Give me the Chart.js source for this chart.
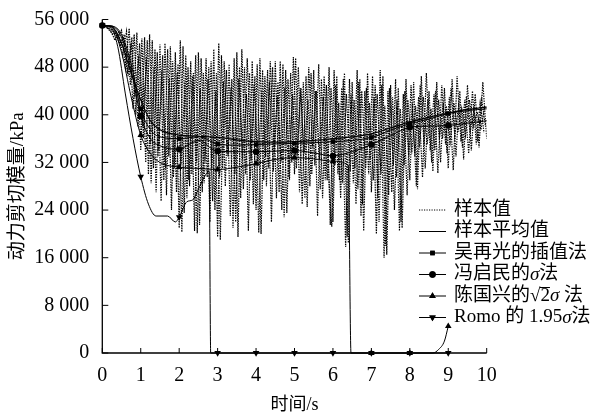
<!DOCTYPE html>
<html>
<head>
<meta charset="utf-8">
<script src="https://cdn.jsdelivr.net/npm/chart.js@4.4.0/dist/chart.umd.min.js"></script>
<style>
  html, body { margin: 0; padding: 0; background: #fff; }
  #wrap { width: 602px; height: 414px; }
</style>
</head>
<body>
<div id="wrap"><canvas id="myChart" width="602" height="414"></canvas></div>
<script>
// 样本值: four dotted sample records, one value every 0.1 s (kPa)
const sampleStep = 0.1;
const sampleStartA = 0;
const sampleA = [
  55000, 54900, 54600, 54000, 53000, 54200, 48000, 54500, 41000, 53800,
  34000, 53000, 30000, 52500, 27000, 51800, 29000, 51000, 24000, 50500,
  21000, 51500, 26000, 49000, 20500, 50500, 27000, 49500, 22000, 51000,
  19500, 50000, 28000, 48500, 21000, 50500, 26000, 48000, 20500, 49000,
  24000, 49500, 29000, 47500, 22000, 49000, 27000, 48500, 23500, 47000,
  30000, 48000, 25000, 46500, 28000, 47500, 23000, 46000, 29000, 48000,
  22000, 46500, 26000, 47000, 18500, 45500, 25000, 46000, 20500, 47000,
  27000, 45000, 22000, 46500, 16500, 45000, 24000, 44500, 21000, 46000,
  29000, 45500, 27500, 46500, 31000, 44000, 30500, 45500, 32000, 44500,
  31000, 46000, 33000, 44000, 32500, 45000, 34000, 43500, 34500, 45500,
  36000
];
const sampleStartB = 0.03;
const sampleB = [
  55000, 54700, 54000, 52500, 53800, 50000, 54000, 45000, 53500, 38000,
  52800, 32000, 53500, 31000, 50500, 25500, 52000, 33000, 49000, 27000,
  52500, 23500, 48000, 30000, 50000, 21500, 47000, 29500, 49000, 24000,
  52000, 31000, 47500, 23000, 49500, 19500, 51000, 30000, 47000, 25000,
  48500, 20000, 46500, 31000, 48000, 26000, 49000, 22800, 46000, 32000,
  49500, 27000, 45500, 24500, 47000, 31500, 48500, 26000, 45000, 21500,
  47500, 30000, 44500, 17800, 46000, 28500, 47500, 23000, 44000, 30000,
  46500, 20000, 47500, 16000, 44000, 27000, 46000, 20500, 43500, 26500,
  45000, 33000, 43000, 29500, 47000, 34000, 43500, 30200, 45000, 35000,
  43000, 30700, 46500, 35500, 42500, 33500, 44000, 35000, 42000, 37000
];
const sampleStartC = 0.07;
const sampleC = [
  54900, 54300, 53500, 54000, 51500, 53500, 46500, 53000, 40000, 52000,
  36000, 52500, 28500, 51000, 34000, 50000, 26500, 51500, 31000, 48500,
  20300, 50000, 28000, 47000, 20100, 49500, 32000, 48000, 25500, 47000,
  19000, 49000, 33000, 46000, 22000, 48000, 27500, 49500, 32500, 46500,
  20200, 47500, 28000, 49000, 33500, 45500, 24000, 47500, 29000, 49700,
  33000, 44500, 26000, 48000, 34500, 44000, 27500, 46500, 32000, 21200,
  45000, 29000, 46000, 19500, 43500, 31000, 45500, 25000, 44500, 32500,
  43000, 26000, 45000, 18000, 44500, 31500, 42500, 22000, 44000, 33000,
  42000, 28000, 45000, 35000, 42500, 32000, 44000, 36000, 42000, 33500,
  44500, 36500, 41500, 34500, 43000, 37000, 41000, 35500, 42500, 38000
];
const sampleStartD = 0.05;
const sampleD = [
  55000, 54600, 54200, 53500, 52000, 53000, 47000, 52000, 43000, 50000,
  38000, 49500, 35000, 48000, 33000, 47500, 31000, 46000, 29500, 47000,
  31500, 45500, 29000, 46500, 32000, 44500, 28500, 46000, 31000, 44000,
  29500, 45500, 33500, 44500, 30000, 46000, 32500, 43500, 29000, 45000,
  31500, 44000, 33000, 45500, 30500, 43000, 32000, 44500, 29500, 43500,
  31000, 44500, 33500, 42500, 30000, 44000, 32500, 43000, 29000, 44500,
  31500, 42000, 28500, 43500, 30500, 42500, 27500, 44000, 31000, 42000,
  29000, 43500, 30000, 41500, 26500, 43000, 29500, 41000, 31500, 42500,
  33500, 41500, 34500, 43000, 35000, 41000, 34000, 42500, 36000, 41500,
  35500, 42000, 37000, 41000, 36500, 42500, 38000, 40500, 37500, 41500
];

// 样本平均值
const avgTime = [0, 0.25, 0.5, 0.75, 1, 1.25, 1.5, 2, 2.5, 3, 3.5, 4, 4.5, 5, 5.5, 6, 6.5, 7, 7.5, 8, 8.5, 9, 9.5, 10];
const avgValue = [55000, 54800, 52000, 47000, 42500, 39000, 37500, 36600, 36400, 36200, 35800, 35500, 35400, 35500, 35700, 36000, 36300, 36800, 37800, 38800, 39600, 40300, 40900, 41300];

// 吴再光的插值法
const wuTime = [0, 0.25, 0.5, 0.75, 1, 1.25, 1.5, 2, 2.5, 3, 3.5, 4, 4.5, 5, 5.5, 6, 6.5, 7, 7.5, 8, 8.5, 9, 9.5, 10];
const wuValue = [55000, 54900, 53500, 48500, 41000, 37500, 36300, 36000, 36300, 35100, 34900, 35000, 35100, 35200, 35300, 35500, 35700, 36200, 37400, 38500, 39300, 40200, 40700, 41000];

// 冯启民的σ法
const fengTime = [0, 0.25, 0.5, 0.75, 1, 1.25, 1.5, 2, 2.3, 2.55, 2.8, 3, 3.5, 4, 4.5, 5, 5.5, 6, 6.5, 7, 7.5, 8, 8.5, 9, 9.5, 10];
const fengValue = [55000, 54900, 53000, 47500, 39800, 36000, 34800, 34200, 35200, 35700, 34500, 33900, 33800, 33800, 33900, 34000, 33600, 33100, 33800, 35000, 36500, 37900, 38100, 38200, 38600, 39000];

// 陈国兴的√2σ法
const chenTime = [0, 0.25, 0.5, 0.75, 1, 1.25, 1.5, 2, 2.5, 3, 3.5, 4, 4.5, 5, 5.5, 6, 6.4, 6.47, 7, 8, 8.6, 8.75, 8.9, 9];
const chenValue = [55000, 54700, 50500, 43000, 36600, 33500, 32000, 31200, 31000, 30800, 31200, 31800, 32500, 32800, 32600, 32200, 31500, 0, 0, 0, 0, 600, 2000, 4500];

// Romo 的 1.95σ法
const romoTime = [0, 0.2, 0.4, 0.6, 0.8, 1, 1.2, 1.4, 1.7, 1.9, 2, 2.2, 2.35, 2.5, 2.65, 2.78, 2.82, 3, 4, 5, 6, 7, 8, 9];
const romoValue = [55000, 54800, 51500, 43500, 36000, 29600, 25000, 23000, 23000, 22000, 22800, 25400, 25700, 27500, 29500, 30500, 0, 0, 0, 0, 0, 0, 0, 0];

const yTicks = [0, 8000, 16000, 24000, 32000, 40000, 48000, 56000];
const xTicks = [0, 1, 2, 3, 4, 5, 6, 7, 8, 9, 10];
const xTitle = "时间/s";
const yTitle = "动力剪切模量/kPa";

const serif = "'Liberation Serif', 'Noto Sans CJK SC'";
const markerSize = { rect: 3.2, circle: 3.2, triangle: 3.8 };

function pts(times, values) {
  return values.map((v, i) => ({ x: times[i], y: v }));
}
function samplePts(start, values) {
  return values.map((v, i) => ({ x: +(start + i * sampleStep).toFixed(2), y: v }));
}
// markers only on whole seconds
function markerRadius(size) {
  return ctx => {
    if (!ctx.raw) return 0;
    return Number.isInteger(ctx.raw.x) && ctx.raw.x < 10 ? size : 0;
  };
}

function sampleSet(data) {
  return {
    data: data,
    borderColor: "#000",
    borderWidth: 1.2,
    borderDash: [1.4, 1.1],
    pointRadius: 0,
    tension: 0,
    order: 2
  };
}
function methodSet(data, style, rot) {
  return {
    data: data,
    borderColor: "#000",
    backgroundColor: "#000",
    borderWidth: 1,
    pointStyle: style,
    pointRotation: rot || 0,
    pointRadius: markerRadius(markerSize[style]),
    pointBorderWidth: 0,
    cubicInterpolationMode: "monotone",
    clip: false,
    order: 1
  };
}

const legendRows = [
  { kind: "dot", parts: [["样本值", "n"]] },
  { kind: "solid", parts: [["样本平均值", "n"]] },
  { kind: "rect", parts: [["吴再光的插值法", "n"]] },
  { kind: "circle", parts: [["冯启民的", "n"], ["σ", "i"], ["法", "n"]] },
  { kind: "triangle", parts: [["陈国兴的", "n"], ["2", "sqrt"], ["σ", "i"], [" 法", "n"]] },
  { kind: "down", parts: [["Romo 的 1.95", "n"], ["σ", "i"], ["法", "n"]] }
];

const overlay = {
  id: "overlay",
  afterDraw(chart) {
    const ctx = chart.ctx;
    const a = chart.chartArea;
    const xs = chart.scales.x;
    const ys = chart.scales.y;
    ctx.save();
    ctx.strokeStyle = "#000";
    ctx.fillStyle = "#000";
    // axes
    ctx.lineWidth = 1.3;
    ctx.beginPath();
    ctx.moveTo(a.left, a.top);
    ctx.lineTo(a.left, a.bottom);
    ctx.lineTo(a.right, a.bottom);
    ctx.stroke();
    // inward ticks
    ctx.lineWidth = 1;
    ctx.beginPath();
    yTicks.forEach(v => {
      const y = ys.getPixelForValue(v);
      ctx.moveTo(a.left, y);
      ctx.lineTo(a.left + 6, y);
    });
    xTicks.forEach(v => {
      const x = xs.getPixelForValue(v);
      ctx.moveTo(x, a.bottom);
      ctx.lineTo(x, a.bottom - 5);
    });
    ctx.stroke();

    // axis titles
    ctx.textAlign = "center";
    ctx.textBaseline = "middle";
    ctx.font = "18px " + serif;
    ctx.fillText(xTitle, (a.left + a.right) / 2, 405);
    ctx.save();
    ctx.translate(18, (a.top + a.bottom) / 2);
    ctx.rotate(-Math.PI / 2);
    ctx.font = "19px " + serif;
    ctx.fillText(yTitle, 0, 0);
    ctx.restore();

    // legend
    const lx0 = 419, lx1 = 446, tx = 454;
    ctx.textAlign = "left";
    legendRows.forEach((row, i) => {
      const y = 210 + i * 21.5;
      ctx.lineWidth = 1;
      ctx.setLineDash(row.kind === "dot" ? [1.2, 1.3] : []);
      ctx.beginPath();
      ctx.moveTo(lx0, y);
      ctx.lineTo(lx1, y);
      ctx.stroke();
      ctx.setLineDash([]);
      const styles = { rect: "rect", circle: "circle", triangle: "triangle", down: "triangle" };
      const st = styles[row.kind];
      if (st) {
        Chart.helpers.drawPoint(ctx, {
          pointStyle: st,
          radius: markerSize[st],
          rotation: row.kind === "down" ? 180 : 0,
          borderWidth: 0
        }, (lx0 + lx1) / 2, y);
        ctx.fill();
      }
      let x = tx;
      ctx.textBaseline = "middle";
      row.parts.forEach(([txt, f]) => {
        if (f === "i") ctx.font = "italic 19px " + serif;
        else ctx.font = "19px " + serif;
        if (f === "sqrt") {
          const rw = ctx.measureText("√").width;
          ctx.fillText("√", x, y);
          const w = ctx.measureText(txt).width;
          ctx.fillText(txt, x + rw, y);
          ctx.lineWidth = 1;
          ctx.beginPath();
          ctx.moveTo(x + rw - 0.5, y - 8.5);
          ctx.lineTo(x + rw + w, y - 8.5);
          ctx.stroke();
          x += rw + w;
        } else {
          ctx.fillText(txt, x, y);
          x += ctx.measureText(txt).width;
        }
      });
    });
    ctx.restore();
  }
};

const fmt = v => v === 0 ? "0" : String(v).replace(/\B(?=(\d{3})+(?!\d))/g, " ");

const config = {
  type: "line",
  data: {
    datasets: [
      methodSet(pts(romoTime, romoValue), "triangle", 180),
      methodSet(pts(chenTime, chenValue), "triangle"),
      methodSet(pts(fengTime, fengValue), "circle"),
      methodSet(pts(wuTime, wuValue), "rect"),
      Object.assign(methodSet(pts(avgTime, avgValue), "circle"), { pointRadius: 0, borderWidth: 1.2 }),
      sampleSet(samplePts(sampleStartA, sampleA)),
      sampleSet(samplePts(sampleStartB, sampleB)),
      sampleSet(samplePts(sampleStartC, sampleC)),
      sampleSet(samplePts(sampleStartD, sampleD))
    ]
  },
  options: {
    responsive: false,
    animation: false,
    layout: { padding: { top: 19.5, right: 115.3, left: 0, bottom: 0 } },
    plugins: { legend: { display: false }, tooltip: { enabled: false } },
    scales: {
      x: {
        type: "linear",
        min: 0,
        max: 10,
        afterFit: s => { s.height = 61; },
        afterBuildTicks: s => { s.ticks = xTicks.map(v => ({ value: v })); },
        grid: { display: false },
        border: { display: false },
        ticks: { color: "#000", padding: 3, maxRotation: 0, font: { family: serif, size: 20 } }
      },
      y: {
        min: 0,
        max: 56000,
        afterFit: s => { s.width = 102.3; },
        afterBuildTicks: s => { s.ticks = yTicks.map(v => ({ value: v })); },
        grid: { display: false },
        border: { display: false },
        ticks: { color: "#000", padding: 5, callback: fmt, font: { family: serif, size: 20 } }
      }
    }
  },
  plugins: [overlay]
};

const myChart = new Chart(document.getElementById("myChart"), config);
</script>
</body>
</html>
